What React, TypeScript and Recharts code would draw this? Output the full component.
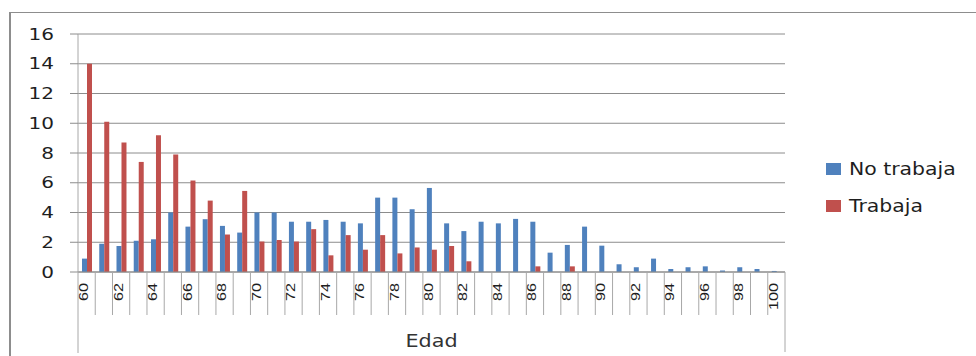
import React from 'react';
import { BarChart, Bar, XAxis, YAxis, CartesianGrid, Legend, Label } from 'recharts';

const ages = [60, 61, 62, 63, 64, 65, 66, 67, 68, 69, 70, 71, 72, 73, 74, 75, 76, 77, 78, 79, 80,
  81, 82, 83, 84, 85, 86, 87, 88, 89, 90, 91, 92, 93, 94, 95, 96, 97, 98, 99, 100];

const noTrabaja = [0.9, 1.9, 1.75, 2.1, 2.2, 4.0, 3.05, 3.55, 3.1, 2.65, 4.0, 4.0, 3.38, 3.38, 3.5,
  3.38, 3.27, 5.0, 5.0, 4.22, 5.65, 3.27, 2.75, 3.38, 3.27, 3.57, 3.38, 1.3, 1.82, 3.05, 1.77,
  0.52, 0.32, 0.9, 0.2, 0.32, 0.38, 0.1, 0.32, 0.2, 0.07];

const trabaja = [14.0, 10.1, 8.7, 7.4, 9.2, 7.9, 6.15, 4.8, 2.52, 5.45, 2.05, 2.15, 2.05, 2.88, 1.12,
  2.48, 1.5, 2.48, 1.25, 1.65, 1.5, 1.75, 0.72, 0, 0, 0, 0.38, 0, 0.38, 0, 0,
  0, 0, 0, 0, 0, 0, 0, 0, 0, 0];

const yTicks = [0, 2, 4, 6, 8, 10, 12, 14, 16];

const data = ages.map((age, i) => ({ age, noTrabaja: noTrabaja[i], trabaja: trabaja[i] }));

const W = 976;
const H = 356;
const MARGIN = { top: 34, right: 191, bottom: 0, left: 18 };
const Y_W = 60;
const X_H = 84;
const PLOT_W = W - MARGIN.left - Y_W - MARGIN.right;
const BAND = PLOT_W / ages.length;

const GRID = '#8c8c8c';
const AXIS = '#a8a8a8';
const TEXT = '#1e1e1e';
const FONT = '"DejaVu Sans", sans-serif';

const YTick = (props: any) => {
  const { x, y, payload } = props;
  return (
    <g transform={`translate(${x},${y})`}>
      <text textAnchor="end" dominantBaseline="central" transform="scale(1.25,1)"
        fontSize={16} fontFamily={FONT} fill={TEXT}>{payload.value}</text>
    </g>
  );
};

const XTick = (props: any) => {
  const { x, y, payload, index } = props;
  const left = x - BAND / 2;
  const right = x + BAND / 2;
  const isFirst = index === 0;
  const isLast = index === ages.length - 1;
  return (
    <g>
      <line x1={left} x2={left} y1={y} y2={isFirst ? y + 81 : y + 43} stroke={AXIS} strokeWidth={1} />
      {isLast && <line x1={right} x2={right} y1={y} y2={y + 80} stroke={AXIS} strokeWidth={1} />}
      {payload.value % 2 === 0 && (
        <text transform={`translate(${x + 1.5},${y + 11}) rotate(-90) scale(1.35,1)`}
          textAnchor="end" fontSize={12} fontFamily='"Liberation Sans", sans-serif' fill={TEXT}>
          {payload.value}
        </text>
      )}
    </g>
  );
};

const LegendContent = (props: any) => {
  const { payload } = props;
  return (
    <div style={{ fontFamily: FONT, fontSize: 17, color: TEXT }}>
      {(payload || []).map((it: any) => (
        <div key={it.value} style={{ display: 'flex', alignItems: 'center', height: 37 }}>
          <span style={{ display: 'inline-block', width: 15, height: 12, background: it.color, marginRight: 8 }} />
          <span style={{ display: 'inline-block', transform: 'scaleX(1.2)', transformOrigin: 'left center', whiteSpace: 'nowrap' }}>
            {it.value}
          </span>
        </div>
      ))}
    </div>
  );
};

export default function App() {
  return (
    <div style={{ position: 'absolute', left: 0, top: 0, width: W, height: H, background: '#fff', overflow: 'hidden' }}>
      <div style={{ position: 'absolute', left: 9, top: 12, width: W - 9, height: H - 12, boxSizing: 'border-box',
        borderTop: '1px solid #8d8d8d', borderLeft: '2px solid #8d8d8d' }} />
      <BarChart width={W} height={H} data={data} margin={MARGIN} barGap={0} barSize={5}
        style={{ position: 'absolute', left: 0, top: 0 }}>
        <CartesianGrid vertical={false} stroke={GRID} strokeWidth={1} />
        <XAxis dataKey="age" type="category" height={X_H} interval={0} tickSize={0} tickMargin={0}
          tickLine={false} axisLine={{ stroke: GRID }} tick={<XTick />}>
          <Label content={(p: any) => {
            const vb = p.viewBox;
            return (
              <text transform={`translate(${vb.x + vb.width / 2},${vb.y + vb.height - 9}) scale(1.22,1)`}
                textAnchor="middle" fontSize={17} fontFamily={FONT} fill="#333">Edad</text>
            );
          }} />
        </XAxis>
        <YAxis width={Y_W} domain={[0, 16]} ticks={yTicks} interval={0} tickSize={8} tickMargin={16}
          tickLine={{ stroke: GRID }} axisLine={{ stroke: AXIS }} tick={<YTick />} />
        <Legend layout="horizontal" verticalAlign="middle" align="center" content={<LegendContent />}
          wrapperStyle={{ position: 'absolute', left: 826, top: 150, width: 150, height: 80 }} />
        <Bar dataKey="noTrabaja" name="No trabaja" fill="#4F81BD" isAnimationActive={false} />
        <Bar dataKey="trabaja" name="Trabaja" fill="#C0504D" isAnimationActive={false} />
      </BarChart>
    </div>
  );
}
